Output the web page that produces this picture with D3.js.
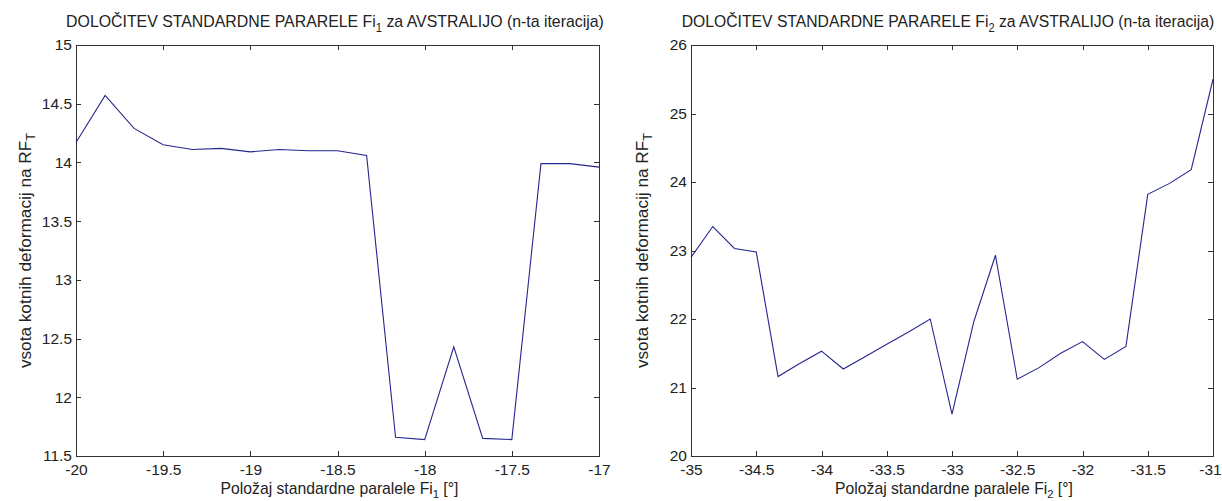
<!DOCTYPE html>
<html>
<head>
<meta charset="utf-8">
<script src="https://cdn.jsdelivr.net/npm/d3@7"></script>
<style>
  body { margin: 0; background: #fff; }
  svg text { font-family: "Liberation Sans", Arial, Helvetica, sans-serif; fill: #222; }
  .axis path, .axis line { stroke: #333; shape-rendering: crispEdges; }
  .axis text { font-size: 15.5px; fill: #222; }
</style>
</head>
<body>
<script>
// Fi1 iteration: position of standard parallel vs. sum of angular deformations
const fi1X = [-20, -19.833, -19.667, -19.5, -19.333, -19.167, -19, -18.833, -18.667, -18.5,
              -18.333, -18.167, -18, -17.833, -17.667, -17.5, -17.333, -17.167, -17];
const fi1Y = [14.17, 14.57, 14.29, 14.15, 14.11, 14.12, 14.09, 14.11, 14.10, 14.10,
              14.06, 11.66, 11.64, 12.43, 11.65, 11.64, 13.99, 13.99, 13.96];

// Fi2 iteration
const fi2X = [-35, -34.833, -34.667, -34.5, -34.333, -34.167, -34, -33.833, -33.667, -33.5,
              -33.333, -33.167, -33, -32.833, -32.667, -32.5, -32.333, -32.167, -32, -31.833,
              -31.667, -31.5, -31.333, -31.167, -31];
const fi2Y = [22.90, 23.35, 23.03, 22.98, 21.16, 21.35, 21.53, 21.27, 21.45, 21.63,
              21.81, 22.00, 20.61, 21.96, 22.93, 21.12, 21.29, 21.50, 21.67, 21.41,
              21.60, 23.82, 23.98, 24.18, 25.50];

// tick values
const fi1XTicks = [-20, -19.5, -19, -18.5, -18, -17.5, -17];
const fi1YTicks = [11.5, 12, 12.5, 13, 13.5, 14, 14.5, 15];
const fi2XTicks = [-35, -34.5, -34, -33.5, -33, -32.5, -32, -31.5, -31];
const fi2YTicks = [20, 21, 22, 23, 24, 25, 26];

const width = 1222, height = 501;
const plotTop = 45, plotBottom = 456;

const svg = d3.select("body").append("svg")
    .attr("width", width)
    .attr("height", height);

// squeeze a text horizontally (in its own coords) to a measured width
function fitWidth(sel, base, target) {
    const w = sel.node().getBBox().width;
    sel.attr("transform", `${base} scale(${target / w},1)`);
}

function drawPanel(opt) {
    const g = svg.append("g");
    const x = d3.scaleLinear().domain(opt.xDomain).range([opt.left, opt.right]);
    const y = d3.scaleLinear().domain(opt.yDomain).range([plotBottom, plotTop]);

    // box with inward ticks on all four sides
    const xb = g.append("g").attr("class", "axis")
        .attr("transform", `translate(0,${plotBottom})`)
        .call(d3.axisBottom(x).tickValues(opt.xTicks).tickFormat(d => String(d))
            .tickSize(-5).tickSizeOuter(0).tickPadding(8));
    // last label sits at the window edge, nudge it in
    if (opt.nudgeLast) xb.selectAll(".tick:last-of-type text").attr("dx", -3);
    g.append("g").attr("class", "axis")
        .attr("transform", `translate(0,${plotTop})`)
        .call(d3.axisTop(x).tickValues(opt.xTicks).tickFormat("").tickSize(-5).tickSizeOuter(0));
    g.append("g").attr("class", "axis")
        .attr("transform", `translate(${opt.left},0)`)
        .call(d3.axisLeft(y).tickValues(opt.yTicks).tickFormat(d => String(d))
            .tickSize(-5).tickSizeOuter(0).tickPadding(4));
    g.append("g").attr("class", "axis")
        .attr("transform", `translate(${opt.right},0)`)
        .call(d3.axisRight(y).tickValues(opt.yTicks).tickFormat("").tickSize(-5).tickSizeOuter(0));
    g.selectAll(".axis .domain").attr("stroke", "#333");

    // data line
    g.append("path")
        .datum(opt.xs.map((v, i) => [v, opt.ys[i]]))
        .attr("fill", "none")
        .attr("stroke", "#26268f")
        .attr("stroke-width", 1.1)
        .attr("d", d3.line().x(d => x(d[0])).y(d => y(d[1])));

    // title
    const title = g.append("text")
        .attr("x", 0)
        .attr("y", 0)
        .attr("text-anchor", "middle")
        .style("font-size", "17px");
    title.append("tspan").text("DOLOČITEV STANDARDNE PARARELE Fi");
    title.append("tspan").attr("dy", 5).style("font-size", "12px").text(opt.sub);
    title.append("tspan").attr("dy", -5).text(" za AVSTRALIJO (n-ta iteracija)");
    fitWidth(title, `translate(${opt.titleCx},27)`, opt.titleW);

    // x label
    const xl = g.append("text")
        .attr("x", 0)
        .attr("y", 0)
        .attr("text-anchor", "middle")
        .style("font-size", "16px");
    xl.append("tspan").text("Položaj standardne paralele Fi");
    xl.append("tspan").attr("dy", 4).style("font-size", "11.5px").text(opt.sub);
    xl.append("tspan").attr("dy", -4).text(" [°]");
    fitWidth(xl, `translate(${(opt.left + opt.right) / 2 + 2},494)`, 238);

    // y label
    const yl = g.append("text")
        .attr("text-anchor", "middle")
        .style("font-size", "16px");
    yl.append("tspan").text("vsota kotnih deformacij na RF");
    yl.append("tspan").attr("dy", 4).style("font-size", "12px").text("T");
    fitWidth(yl, `translate(${opt.yLabelX},${(plotTop + plotBottom) / 2}) rotate(-90)`, 236);
}

drawPanel({
    left: 76, right: 599,
    xDomain: [-20, -17], yDomain: [11.5, 15],
    xTicks: fi1XTicks, yTicks: fi1YTicks,
    xs: fi1X, ys: fi1Y,
    sub: "1", titleCx: 335, titleW: 538, yLabelX: 31, nudgeLast: false
});

drawPanel({
    left: 691, right: 1213,
    xDomain: [-35, -31], yDomain: [20, 26],
    xTicks: fi2XTicks, yTicks: fi2YTicks,
    xs: fi2X, ys: fi2Y,
    sub: "2", titleCx: 948, titleW: 533, yLabelX: 648, nudgeLast: true
});
</script>
</body>
</html>
